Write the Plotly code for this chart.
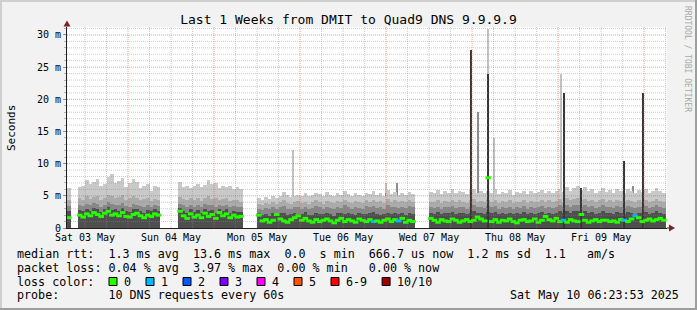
import plotly.graph_objects as go

# ---------------- data: hours since Sat 03 May 2025 00:00 ----------------
seg_start = [7, 10, 38, 60, 108]   # first hour of each continuous data block

rtt_max = [
    [6.2],
    [6.3, 6.6, 7.5, 6.9, 7.2, 7.6, 6.5, 6.8, 8.0, 8.4,
     7.0, 7.3, 7.8, 6.4, 7.0, 7.6, 7.1, 6.2, 6.6, 6.9,
     5.8, 6.5, 6.3],
    [7.2, 6.3, 6.5, 6.2, 6.6, 6.9, 6.4, 6.7, 7.4, 6.8,
     7.0, 6.2, 6.5, 6.4, 6.6, 6.1, 6.3, 6.0],
    [4.6, 4.4, 4.8, 4.5, 5.0, 4.7, 4.9, 5.6, 5.1, 4.8,
     5.0, 5.2, 4.9, 5.4, 5.0, 5.1, 5.5, 5.3, 4.9, 5.6,
     5.2, 5.0, 5.4, 5.1, 5.8, 5.3, 5.0, 5.4, 5.2, 5.0,
     5.5, 5.3, 5.7, 5.2, 5.4, 5.0, 5.9, 5.3, 5.6, 5.1,
     5.4, 5.2, 5.6, 5.3],
    [5.6, 5.4, 5.9, 5.3, 5.7, 5.5, 6.0, 5.4, 5.8, 5.6,
     5.3, 5.9, 6.1, 5.5, 5.8, 5.4, 5.7, 5.5, 6.0, 5.3,
     5.6, 5.4, 5.9, 5.2, 5.6, 5.5, 5.8, 5.3, 5.7, 5.4,
     5.6, 5.9, 5.5, 5.8, 5.4, 5.7, 6.1, 5.6, 6.4, 5.8,
     6.2, 6.6, 5.9, 6.3, 5.7, 6.0, 5.5, 5.8, 6.2, 5.6,
     5.9, 5.4, 6.0, 5.7, 5.5, 6.1, 5.8, 5.4, 5.9, 5.6,
     6.0, 5.5, 5.8, 6.2, 5.7, 5.5],
]
rtt_upper = [
    [4.4],
    [4.6, 4.4, 4.9, 4.5, 4.8, 5.0, 4.3, 4.7, 5.2, 5.0,
     4.6, 4.8, 5.1, 4.4, 4.6, 4.9, 4.7, 4.3, 4.5, 4.6,
     4.2, 4.5, 4.4],
    [4.8, 4.5, 4.3, 4.6, 4.4, 4.7, 4.2, 4.6, 4.9, 4.5,
     4.6, 4.3, 4.5, 4.7, 4.2, 4.4, 4.3, 4.1],
    [3.8, 3.6, 3.9, 3.7, 4.0, 3.8, 4.1, 4.3, 3.9, 3.8,
     4.0, 4.2, 3.9, 4.1, 3.8, 4.0, 4.3, 4.1, 3.8, 4.2,
     4.0, 3.9, 4.2, 4.0, 4.4, 4.1, 3.9, 4.2, 4.0, 3.9,
     4.3, 4.1, 4.4, 4.0, 4.2, 3.9, 4.5, 4.1, 4.3, 4.0,
     4.2, 4.0, 4.3, 4.1],
    [4.1, 4.0, 4.3, 3.9, 4.2, 4.1, 4.4, 4.0, 4.3, 4.1,
     3.9, 4.3, 4.5, 4.1, 4.2, 4.0, 4.3, 4.1, 4.4, 3.9,
     4.2, 4.0, 4.3, 3.9, 4.1, 4.0, 4.3, 3.9, 4.2, 4.0,
     4.1, 4.4, 4.0, 4.3, 4.0, 4.2, 4.5, 4.1, 4.6, 4.3,
     4.5, 4.7, 4.3, 4.5, 4.2, 4.4, 4.0, 4.3, 4.5, 4.1,
     4.3, 4.0, 4.4, 4.2, 4.0, 4.4, 4.2, 4.0, 4.3, 4.1,
     4.4, 4.0, 4.2, 4.5, 4.2, 4.0],
]
rtt_mid = [
    [3.4],
    [3.6, 3.4, 3.8, 3.5, 3.9, 3.7, 3.3, 3.6, 4.0, 3.8,
     3.6, 3.5, 3.9, 3.4, 3.3, 3.7, 3.6, 3.4, 3.2, 3.5,
     3.3, 3.6, 3.4],
    [3.8, 3.5, 3.2, 3.6, 3.3, 3.6, 3.2, 3.7, 3.6, 3.5,
     3.3, 3.6, 3.4, 3.6, 3.2, 3.4, 3.3, 3.2],
    [3.0, 2.8, 3.1, 2.9, 3.2, 3.0, 3.2, 3.4, 3.0, 2.9,
     3.2, 3.3, 3.0, 3.3, 2.9, 3.1, 3.4, 3.2, 3.0, 3.3,
     3.1, 3.0, 3.3, 3.1, 3.5, 3.2, 3.0, 3.3, 3.1, 3.0,
     3.4, 3.2, 3.4, 3.1, 3.3, 3.0, 3.5, 3.2, 3.3, 3.1,
     3.3, 3.1, 3.4, 3.2],
    [3.2, 3.1, 3.3, 3.0, 3.3, 3.2, 3.4, 3.1, 3.3, 3.2,
     3.0, 3.3, 3.5, 3.2, 3.3, 3.1, 3.4, 3.2, 3.4, 3.0,
     3.3, 3.1, 3.3, 3.0, 3.2, 3.1, 3.4, 3.0, 3.3, 3.1,
     3.2, 3.4, 3.1, 3.3, 3.1, 3.3, 3.5, 3.2, 3.6, 3.3,
     3.5, 3.6, 3.3, 3.5, 3.2, 3.4, 3.1, 3.3, 3.5, 3.2,
     3.3, 3.1, 3.4, 3.2, 3.1, 3.4, 3.2, 3.1, 3.3, 3.2,
     3.4, 3.1, 3.2, 3.5, 3.2, 3.1],
]
rtt_low = [
    [2.6],
    [2.8, 2.6, 3.0, 2.7, 3.1, 2.9, 2.5, 2.9, 3.3, 2.8,
     3.0, 2.7, 3.1, 2.6, 2.5, 2.9, 3.0, 2.7, 2.4, 2.8,
     2.6, 2.9, 2.7],
    [3.1, 2.7, 2.3, 2.9, 2.5, 2.8, 2.4, 3.0, 2.6, 2.8,
     2.4, 3.0, 2.6, 2.9, 2.4, 2.7, 2.5, 2.5],
    [2.3, 2.0, 2.2, 1.9, 2.3, 2.1, 2.4, 2.3, 2.0, 2.1,
     2.4, 2.2, 2.1, 2.5, 2.0, 2.0, 2.4, 2.1, 2.2, 2.4,
     2.1, 1.9, 2.3, 2.4, 2.2, 2.3, 2.1, 2.0, 2.4, 2.2,
     2.1, 2.3, 2.5, 2.1, 2.0, 2.2, 2.4, 2.1, 2.3, 2.2,
     2.4, 2.0, 2.3, 2.1],
    [2.4, 2.2, 2.5, 2.1, 2.4, 2.3, 2.5, 2.2, 2.4, 2.3,
     2.1, 2.4, 2.6, 2.3, 2.4, 2.2, 2.5, 2.3, 2.5, 2.1,
     2.4, 2.2, 2.4, 2.1, 2.3, 2.2, 2.5, 2.1, 2.4, 2.2,
     2.3, 2.5, 2.2, 2.4, 2.2, 2.4, 2.6, 2.3, 2.7, 2.4,
     2.6, 2.7, 2.4, 2.6, 2.3, 2.5, 2.2, 2.4, 2.6, 2.3,
     2.4, 2.2, 2.5, 2.3, 2.2, 2.5, 2.3, 2.2, 2.4, 2.3,
     2.5, 2.2, 2.3, 2.6, 2.3, 2.2],
]
rtt_median = [
    [1.6],
    [2.0, 1.7, 2.2, 1.9, 2.4, 2.1, 1.8, 2.3, 2.6, 2.0,
     2.2, 1.9, 2.4, 1.8, 1.7, 2.1, 2.3, 1.9, 1.6, 2.0,
     1.8, 2.2, 2.0],
    [2.6, 1.9, 1.5, 2.2, 1.7, 2.0, 1.6, 2.3, 1.8, 2.1,
     1.5, 2.4, 1.9, 2.2, 1.6, 2.0, 1.7, 1.8],
    [2.0, 1.1, 1.3, 0.9, 1.2, 2.1, 1.4, 1.1, 0.9, 1.3,
     1.6, 1.9, 1.2, 1.5, 1.1, 0.9, 1.3, 1.0, 1.2, 1.4,
     1.1, 0.8, 1.2, 1.5, 1.0, 1.3, 1.1, 0.9, 1.4, 1.2,
     1.0, 1.3, 1.0, 1.1, 0.9, 1.2, 1.4, 1.0, 1.3, 1.1,
     1.5, 0.9, 1.2, 1.0],
    [1.5, 1.2, 0.9, 1.3, 1.1, 1.0, 1.4, 1.2, 0.9, 1.1,
     1.3, 1.0, 1.2, 1.7, 1.4, 1.1, 7.8, 1.0, 1.3, 0.9,
     1.2, 1.1, 1.4, 1.0, 0.8, 1.2, 1.3, 1.0, 1.1, 1.4,
     0.9, 1.2, 1.8, 1.3, 1.1, 1.5, 1.0, 1.2, 0.9, 1.3,
     1.1, 1.0, 2.1, 1.2, 0.9, 1.1, 1.3, 1.0, 1.2, 1.2,
     1.0, 1.1, 0.9, 1.3, 1.2, 1.0, 1.4, 1.9, 1.6, 1.0,
     1.2, 1.4, 1.1, 1.3, 1.5, 1.2],
]

loss_hours = [92, 99, 145, 162, 165]
loss_count = [1, 1, 1, 1, 1]

# short single-sample outliers
spike_hour = [70.0, 96.0, 99.2, 119.7, 121.7, 124.4, 126.1, 144.8, 145.8, 150.4, 162.4, 164.9, 167.7]
spike_max = [12.2, 7.0, 7.0, 27.7, 18.0, 31.0, 14.0, 24.0, 21.0, 6.2, 10.4, 6.5, 21.0]
spike_upper = [4.5, 5.5, 7.0, 27.7, 18.0, 24.0, 4.5, 5.0, 21.0, 6.2, 10.4, 6.5, 21.0]
spike_core = [None, None, None, 27.7, None, 24.0, None, None, 21.0, 6.2, 10.4, None, 21.0]

day_tick_hours = [12, 36, 60, 84, 108, 132, 156]
day_tick_text = ["Sat 03 May", "Sun 04 May", "Mon 05 May", "Tue 06 May",
                 "Wed 07 May", "Thu 08 May", "Fri 09 May"]
y_tick_vals = [0, 5, 10, 15, 20, 25, 30]
y_tick_text = ["0", "5 m", "10 m", "15 m", "20 m", "25 m", "30 m"]

loss_labels = ["0", "1", "2", "3", "4", "5", "6-9", "10/10"]
loss_colors = ["#26ff00", "#00b8ff", "#0059ff", "#7e00ff", "#ff00ff", "#ff5500", "#ff0000", "#a10000"]

legend_rows = [
    "median rtt:  1.3 ms avg  13.6 ms max  0.0  s min  666.7 us now  1.2 ms sd  1.1   am/s",
    "packet loss: 0.04 % avg  3.97 % max  0.00 % min   0.00 % now",
    "loss color:",
    "probe:       10 DNS requests every 60s",
]
stamp = "Sat May 10 06:23:53 2025"
title = "Last 1 Weeks from DMIT to Quad9 DNS 9.9.9.9"

x_range = [6.975, 174.38]
y_range = [0, 31.24]

# ---------------- layout geometry ----------------
W, H = 697, 310
ML, MR, MT, MB = 67, 30, 27, 82
PW, PH = W - ML - MR, H - MT - MB
FONT = "DejaVu Sans Mono"


def pxx(x):
    return (x - ML) / PW


def pxy(y):
    return (H - MB - y) / PH


def flat(series):
    xs, ys = [], []
    for s, vals in zip(seg_start, series):
        for i, v in enumerate(vals):
            xs.append(s + i + 0.5)
            ys.append(v)
    return xs, ys


fig = go.Figure()


def add_bars(x, y, color, width):
    fig.add_trace(go.Bar(x=x, y=y, base=0, width=width,
                         marker=dict(color=color, line=dict(width=0)),
                         hoverinfo="skip", showlegend=False))


SPK_W = 0.33
add_bars(spike_hour, spike_max, "#c2c2c2", SPK_W)
add_bars(spike_hour, spike_upper, "#8c8c8c", SPK_W)

for series, color in [(rtt_max, "#c9c9c9"), (rtt_upper, "#ababab"),
                      (rtt_mid, "#878787"), (rtt_low, "#4e4e4e")]:
    xs, ys = flat(series)
    add_bars(xs, ys, color, 1.0)

add_bars(spike_hour, spike_core, "#363636", SPK_W)

# median, coloured by packet loss
mx_, my_ = flat(rtt_median)
loss_map = dict(zip(loss_hours, loss_count))


def loss_idx(n):
    if n <= 5:
        return n
    if n < 10:
        return 6
    return 7


mcol = [loss_colors[loss_idx(loss_map.get(int(x - 0.5), 0))] for x in mx_]
fig.add_trace(go.Scatter(x=mx_, y=my_, mode="markers",
                         marker=dict(symbol="line-ew", size=4, color=mcol,
                                     line=dict(width=3, color=mcol)),
                         hoverinfo="skip", showlegend=False))

shapes = []
# grid on top of the smoke (rrdtool style)
h = 0
while h <= x_range[1]:
    if h > x_range[0]:
        major = (h % 24 == 0)
        shapes.append(dict(type="line", xref="x", yref="paper", x0=h, x1=h, y0=0, y1=1,
                           layer="above",
                           line=dict(color="rgba(222,79,79,0.55)" if major else "rgba(140,140,140,0.45)",
                                     width=1, dash="1px,1px")))
    h += 6
for m in range(1, 32):
    if m > y_range[1]:
        break
    major = (m % 5 == 0)
    shapes.append(dict(type="line", xref="paper", yref="y", x0=0, x1=1, y0=m, y1=m,
                       layer="above",
                       line=dict(color="rgba(222,79,79,0.55)" if major else "rgba(140,140,140,0.45)",
                                 width=1, dash="1px,1px")))

# axis arrows
AR = "#801f1f"
shapes.append(dict(type="path", xref="paper", yref="paper", layer="above",
                   path=f"M {pxx(63.5)} {pxy(26.5)} L {pxx(70.5)} {pxy(26.5)} L {pxx(67)} {pxy(20.5)} Z",
                   fillcolor=AR, line=dict(width=0)))
shapes.append(dict(type="line", xref="paper", yref="paper", layer="above",
                   x0=1, x1=pxx(670), y0=0, y1=0, line=dict(color="#1f1f1f", width=1)))
shapes.append(dict(type="path", xref="paper", yref="paper", layer="above",
                   path=f"M {pxx(669)} {pxy(224.5)} L {pxx(669)} {pxy(231.5)} L {pxx(675)} {pxy(228)} Z",
                   fillcolor=AR, line=dict(width=0)))

# image frame
shapes += [
    dict(type="rect", xref="paper", yref="paper", x0=pxx(0), x1=pxx(W), y0=pxy(0), y1=pxy(2),
         fillcolor="#cfcfcf", line=dict(width=0), layer="above"),
    dict(type="rect", xref="paper", yref="paper", x0=pxx(0), x1=pxx(2), y0=pxy(0), y1=pxy(H),
         fillcolor="#cfcfcf", line=dict(width=0), layer="above"),
    dict(type="rect", xref="paper", yref="paper", x0=pxx(0), x1=pxx(W), y0=pxy(H - 2), y1=pxy(H),
         fillcolor="#9e9e9e", line=dict(width=0), layer="above"),
    dict(type="rect", xref="paper", yref="paper", x0=pxx(W - 2), x1=pxx(W), y0=pxy(0), y1=pxy(H),
         fillcolor="#9e9e9e", line=dict(width=0), layer="above"),
]

annotations = []


def txt(s):
    return s.replace(" ", "\u00a0")


ROW_Y = [254.3, 267.9, 281.6, 295.3]
TXT_SIZE = 11.7
CW = 7.05
for i, row in enumerate(legend_rows):
    annotations.append(dict(text=txt(row), xref="paper", yref="paper", x=pxx(15), y=pxy(ROW_Y[i]),
                            xanchor="left", yanchor="middle", showarrow=False,
                            font=dict(family=FONT, size=TXT_SIZE, color="#000000")))
annotations.append(dict(text=txt(stamp), xref="paper", yref="paper", x=pxx(681), y=pxy(ROW_Y[3]),
                        xanchor="right", yanchor="middle", showarrow=False,
                        font=dict(family=FONT, size=TXT_SIZE, color="#000000")))

# loss colour legend boxes
bx = 109.0
for lab, col in zip(loss_labels, loss_colors):
    shapes.append(dict(type="rect", xref="paper", yref="paper", layer="above",
                       x0=pxx(bx), x1=pxx(bx + 8), y0=pxy(277.5), y1=pxy(285.5),
                       fillcolor=col, line=dict(color="#000000", width=1)))
    annotations.append(dict(text=txt(lab), xref="paper", yref="paper", x=pxx(bx + 13), y=pxy(ROW_Y[2]),
                            xanchor="left", yanchor="middle", showarrow=False,
                            font=dict(family=FONT, size=TXT_SIZE, color="#000000")))
    bx += 37 + (len(lab) - 1) * CW

annotations.append(dict(text="Seconds", xref="paper", yref="paper", x=pxx(11), y=pxy(128),
                        textangle=-90, xanchor="center", yanchor="middle", showarrow=False,
                        font=dict(family=FONT, size=11, color="#000000")))
annotations.append(dict(text=txt("RRDTOOL / TOBI OETIKER"), xref="paper", yref="paper", x=pxx(688),
                        y=pxy(59), textangle=90, xanchor="center", yanchor="middle", showarrow=False,
                        font=dict(family=FONT, size=8, color="#a8a8a8")))

fig.update_layout(
    width=W, height=H,
    margin=dict(l=ML, r=MR, t=MT, b=MB, pad=0),
    paper_bgcolor="#f2f2f2", plot_bgcolor="#ffffff",
    barmode="overlay", bargap=0, showlegend=False,
    title=dict(text=title, x=0.5, xref="container", xanchor="center",
               y=1 - 19 / H, yref="container", yanchor="middle",
               font=dict(family=FONT, size=13, color="#000000")),
    xaxis=dict(range=x_range, tickvals=day_tick_hours, ticktext=day_tick_text,
               showgrid=False, zeroline=False, showline=True, linecolor="#1f1f1f", linewidth=1,
               ticks="", tickfont=dict(family=FONT, size=10, color="#000000"),
               layer="above traces", fixedrange=True),
    yaxis=dict(range=y_range, tickvals=y_tick_vals, ticktext=y_tick_text,
               showgrid=False, zeroline=False, showline=True, linecolor="#1f1f1f", linewidth=1,
               ticks="outside", ticklen=3, tickcolor="rgba(222,79,79,0.7)",
               minor=dict(dtick=1, tick0=0, ticks="outside", ticklen=2,
                          tickcolor="rgba(140,140,140,0.6)", showgrid=False),
               tickfont=dict(family=FONT, size=10, color="#000000"),
               layer="above traces", fixedrange=True),
    shapes=shapes, annotations=annotations,
)

fig.write_html("out.html")
